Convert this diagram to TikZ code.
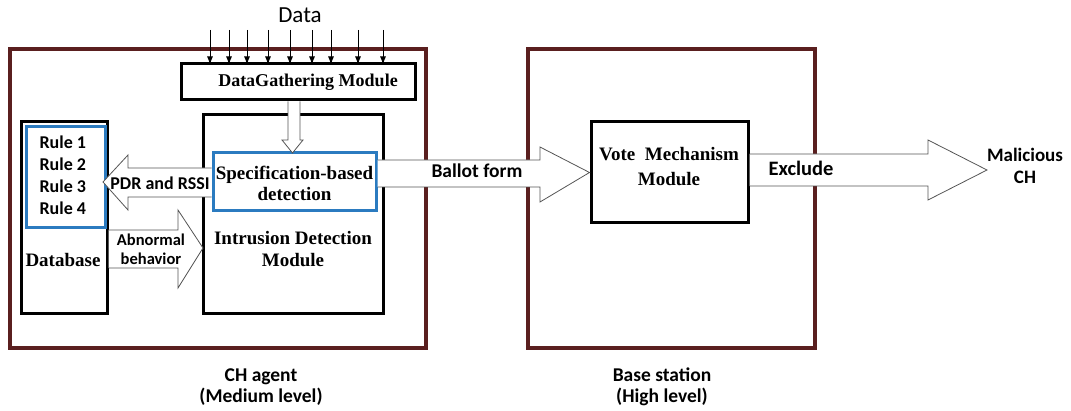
\documentclass[tikz,border=0pt]{standalone}
\usepackage{fontspec}
\setmainfont{Liberation Serif}
\newfontfamily\calib{Carlito}
\usetikzlibrary{arrows.meta}
\definecolor{brownc}{HTML}{5A1F1F}
\definecolor{bluec}{HTML}{2B7BC0}
\definecolor{arrowc}{HTML}{555555}
\tikzset{
  blkbox/.style={draw=black, line width=3pt, inner sep=0pt},
  bluebox/.style={draw=bluec, line width=3pt, inner sep=0pt},
  blockarr/.style={draw=arrowc, line width=0.8pt, fill=white, line join=miter},
  serif/.style={font=\fontsize{#1}{22}\selectfont\bfseries, align=center},
  sans/.style={font=\calib\fontsize{#1}{22}\selectfont\bfseries, align=center},
  caption/.style={font=\calib\fontsize{19.5}{21}\selectfont\bfseries, align=center},
  datain/.style={draw=black, line width=0.9pt, -{Latex[length=8pt,width=6pt]}},
}
\begin{document}
\begin{tikzpicture}[x=1pt,y=-1pt]
\useasboundingbox (0,0) rectangle (1071,411);
% outer containers
\node[draw=brownc, line width=4pt, minimum width=416pt, minimum height=299pt] (agent) at (218,198.5) {};
\node[draw=brownc, line width=4pt, minimum width=287pt, minimum height=299pt] (base) at (671.5,198.5) {};
% modules
\node[blkbox, minimum width=234pt, minimum height=36pt] (dgm) at (298,82) {};
\node[serif=18] at (308,82) {DataGathering Module};
\node[blkbox, minimum width=180pt, minimum height=199pt] (ids) at (293,214.5) {};
\node[serif=19] at (293,249) {Intrusion Detection\\Module};
\node[blkbox, minimum width=86pt, minimum height=192pt] (db) at (64,218) {};
\node[serif=19] at (63,260) {Database};
\node[bluebox, minimum width=79pt, minimum height=101pt] (rules) at (65.5,177.5) {};
\node[align=left, anchor=west, font=\calib\fontsize{18}{22}\selectfont\bfseries] at (36,175) {Rule 1\\Rule 2\\Rule 3\\Rule 4};
\node[bluebox, minimum width=163pt, minimum height=58pt, fill=white] (spec) at (294.5,182) {};
\node[align=center, font=\fontsize{19}{21}\selectfont\bfseries] at (294.5,183) {Specification-based\\detection};
\node[blkbox, minimum width=157pt, minimum height=101pt] (vote) at (669.5,172.5) {};
\node[align=center, font=\fontsize{19}{25}\selectfont\bfseries] at (669,167) {Vote~~Mechanism\\Module};
% Data inputs
\node[font=\calib\fontsize{23}{26}\selectfont] (data) at (300,15) {Data};
\foreach \xx in {210,229,247,268,290,312,331,358,383}
  \draw[datain] (\xx,30) -- (\xx,64.5);
% block arrows
% down: dgm -> spec
\draw[blockarr] (dgm.south -| 288,0) -- (288,140) -- (282,140) -- (292.5,153) -- (303,140) -- (300,140) -- (dgm.south -| 300,0);
% PDR and RSSI: spec -> rules
\draw[blockarr] (spec.west |- 0,168) -- (128,168) -- (128,155) -- (103,182) -- (128,210) -- (128,197) -- (spec.west |- 0,197);
\node[sans=18] at (160,183) {PDR and RSSI};
% Abnormal behavior: db -> ids
\draw[blockarr] (db.east |- 0,230) -- (178,230) -- (178,210) -- (203,248) -- (178,288) -- (178,268) -- (db.east |- 0,268);
\node[align=center, font=\calib\fontsize{16.5}{19}\selectfont\bfseries] at (151,249) {Abnormal\\behavior};
% Ballot form: spec -> vote
\draw[blockarr] (spec.east |- 0,160) -- (540,160) -- (540,147) -- (vote.west) -- (540,202) -- (540,187) -- (spec.east |- 0,187);
\node[sans=19.5] at (477,171) {Ballot form};
% Exclude: vote -> malicious
\draw[blockarr] (vote.east |- 0,154) -- (928,154) -- (928,140) -- (987,170) -- (928,200) -- (928,186) -- (vote.east |- 0,186);
\node[sans=20.5] at (801,168) {Exclude};
\node[align=center, font=\calib\fontsize{19}{22}\selectfont\bfseries] (mal) at (1025,166) {Malicious\\CH};
% captions
\node[caption] (cap1) at (261,387) {CH agent\\(Medium level)};
\node[caption] (cap2) at (662,387) {Base station\\(High level)};
\end{tikzpicture}
\end{document}
